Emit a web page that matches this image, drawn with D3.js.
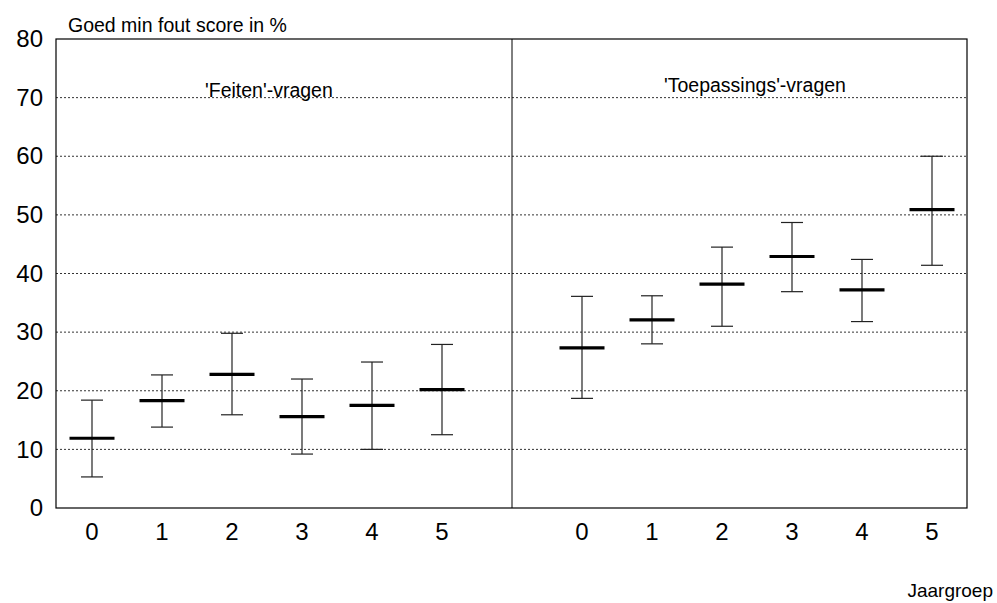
<!DOCTYPE html>
<html><head><meta charset="utf-8">
<script src="https://cdn.jsdelivr.net/npm/d3@7"></script>
<style>body{margin:0;background:#fff;} svg{display:block;font-family:"Liberation Sans",Arial,sans-serif;}</style>
</head><body>
<svg id="c" width="997" height="603"></svg>
<script>
const groups = ["0","1","2","3","4","5"];
const panels = ["'Feiten'-vragen", "'Toepassings'-vragen"];
const feitenMean = [11.9, 18.3, 22.8, 15.6, 17.5, 20.2];
const feitenHigh = [18.4, 22.7, 29.8, 22.0, 24.9, 27.9];
const feitenLow  = [5.3, 13.8, 15.9, 9.2, 10.0, 12.5];
const toepMean = [27.3, 32.1, 38.2, 42.9, 37.2, 50.9];
const toepHigh = [36.1, 36.2, 44.5, 48.7, 42.4, 60.0];
const toepLow  = [18.7, 28.0, 31.0, 36.9, 31.8, 41.4];
const yTicks = [0,10,20,30,40,50,60,70,80];
const yTitle = "Goed min fout score in %";
const xTitle = "Jaargroep";

const svg = d3.select("#c");
const L = 56, R = 967, T = 39, B = 508;
const slots = [...groups.map(g=>"F"+g), "gap", ...groups.map(g=>"T"+g)];
const x = d3.scaleBand().domain(slots).range([L+1, R]).paddingInner(0).paddingOuter(0);
const y = d3.scaleLinear().domain([0,80]).range([B, T]);

const data = [];
groups.forEach((g,i)=>{ data.push({k:"F"+g,g,m:feitenMean[i],h:feitenHigh[i],l:feitenLow[i]}); });
groups.forEach((g,i)=>{ data.push({k:"T"+g,g,m:toepMean[i],h:toepHigh[i],l:toepLow[i]}); });
const cx = k => x(k) + x.bandwidth()/2;

// gridlines
svg.append("g").selectAll("line").data(yTicks.filter(t=>t>0 && t<80)).join("line")
  .attr("x1", L).attr("x2", R).attr("y1", d=>y(d)).attr("y2", d=>y(d))
  .attr("stroke", "#333").attr("stroke-width", 1).attr("stroke-dasharray", "2,2");

// frame
svg.append("rect").attr("x", L).attr("y", T).attr("width", R-L).attr("height", B-T)
  .attr("fill","none").attr("stroke","#000").attr("stroke-width",1.2);
// divider
svg.append("line").attr("x1", cx("gap")).attr("x2", cx("gap")).attr("y1", T).attr("y2", B)
  .attr("stroke","#000").attr("stroke-width",1);

// y axis labels
const yAxis = d3.axisLeft(y).tickValues(yTicks).tickSize(0).tickPadding(13);
const ya = svg.append("g").attr("transform", `translate(${L},0)`).call(yAxis);
ya.select(".domain").remove();
ya.selectAll("text").attr("font-size", 24).attr("fill","#000").attr("font-family","Liberation Sans, Arial, sans-serif");

// x axis labels
const xAxis = d3.axisBottom(x).tickSize(0).tickPadding(15).tickFormat(k => k==="gap" ? "" : k.slice(1));
const xa = svg.append("g").attr("transform", `translate(0,${B})`).call(xAxis);
xa.select(".domain").remove();
xa.selectAll("text").attr("font-size", 24).attr("fill","#000").attr("font-family","Liberation Sans, Arial, sans-serif");

// error bars
const eg = svg.append("g");
eg.selectAll(".w").data(data).join("line")
  .attr("x1", d=>cx(d.k)).attr("x2", d=>cx(d.k)).attr("y1", d=>y(d.h)).attr("y2", d=>y(d.l))
  .attr("stroke","#222").attr("stroke-width",1.2);
eg.selectAll(".ct").data(data).join("line")
  .attr("x1", d=>cx(d.k)-11).attr("x2", d=>cx(d.k)+11).attr("y1", d=>y(d.h)).attr("y2", d=>y(d.h))
  .attr("stroke","#222").attr("stroke-width",1.2);
eg.selectAll(".cb").data(data).join("line")
  .attr("x1", d=>cx(d.k)-11).attr("x2", d=>cx(d.k)+11).attr("y1", d=>y(d.l)).attr("y2", d=>y(d.l))
  .attr("stroke","#222").attr("stroke-width",1.2);
eg.selectAll(".m").data(data).join("line")
  .attr("x1", d=>cx(d.k)-22.5).attr("x2", d=>cx(d.k)+22.5).attr("y1", d=>y(d.m)).attr("y2", d=>y(d.m))
  .attr("stroke","#000").attr("stroke-width",3.2);

// panel titles
svg.append("text").attr("x", 205).attr("y", 97).attr("font-size", 19.5).text(panels[0]);
svg.append("text").attr("x", 664).attr("y", 92).attr("font-size", 19.5).text(panels[1]);

// axis titles
svg.append("text").attr("x", 68).attr("y", 32).attr("font-size", 19.5).text(yTitle);
svg.append("text").attr("x", 993).attr("y", 597).attr("text-anchor","end").attr("font-size", 19).text(xTitle);
</script>
</body></html>
